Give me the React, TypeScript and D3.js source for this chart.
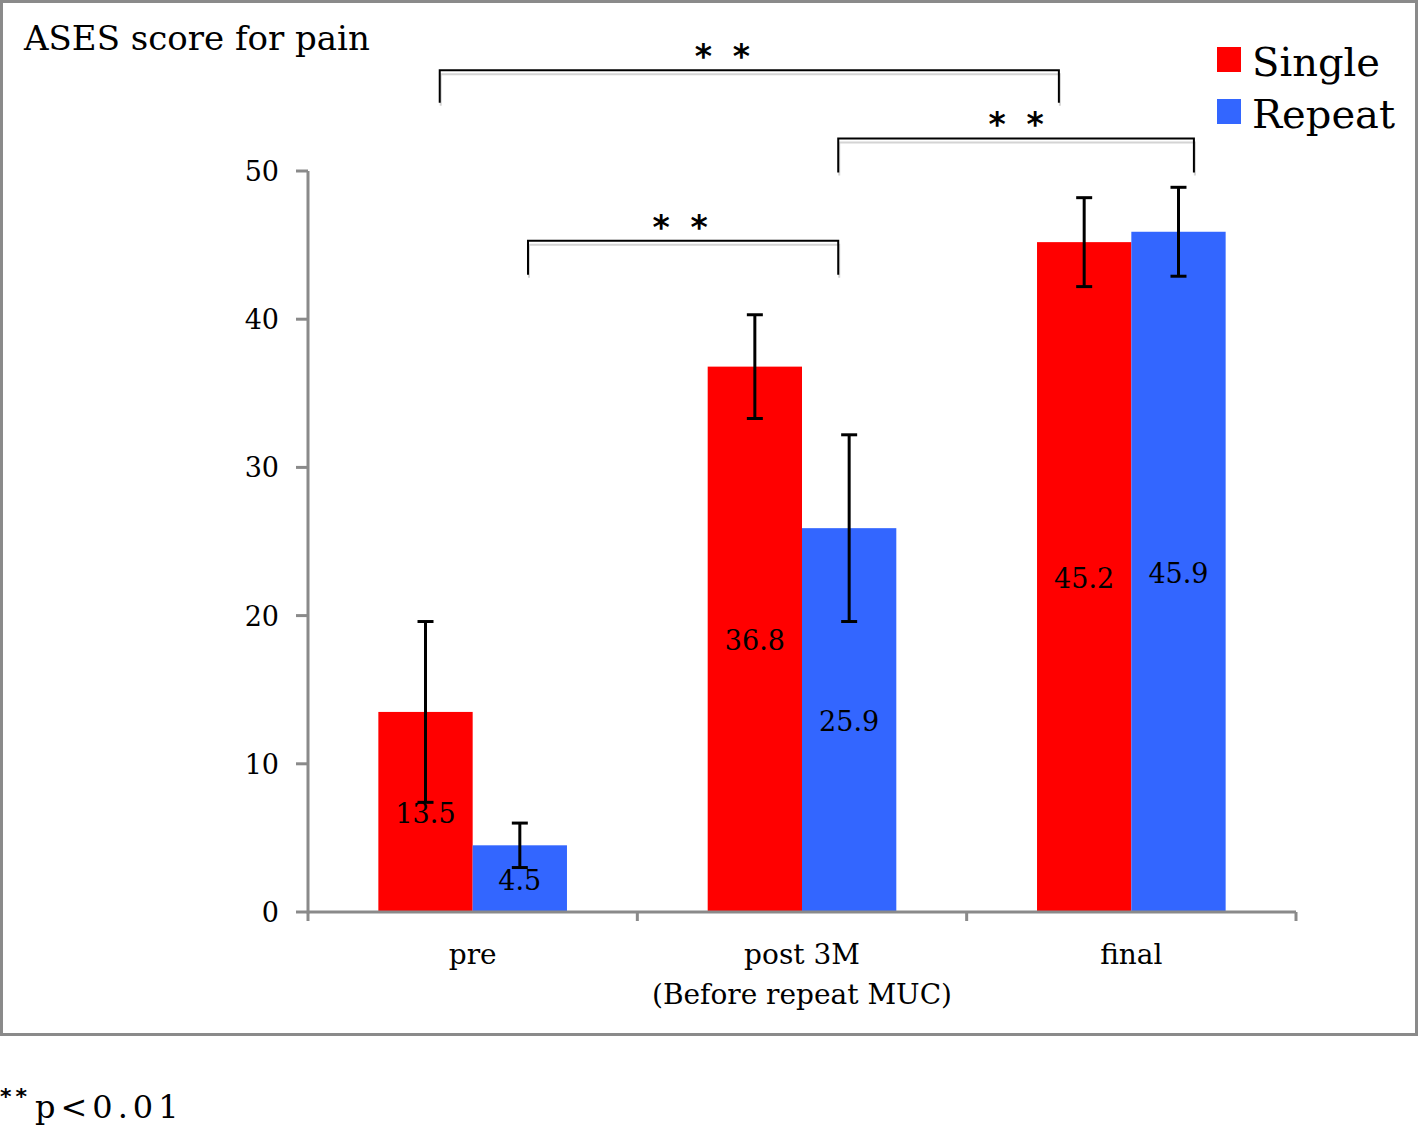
import React from "react";
import * as d3 from "d3";

const categories = ["pre", "post 3M", "final"];
const categorySubLabels = ["", "(Before repeat MUC)", ""];
const seriesNames = ["Single", "Repeat"];
const seriesColors = ["#FF0000", "#3366FF"];
const singleValues = [13.5, 36.8, 45.2];
const repeatValues = [4.5, 25.9, 45.9];
const singleErrors = [6.1, 3.5, 3.0];
const repeatErrors = [1.5, 6.3, 3.0];
const yTicks = [0, 10, 20, 30, 40, 50];
// significance brackets: x in category-index units, y in data units
const bracketX1 = [0.4, 1.61, 0.668];
const bracketX2 = [2.28, 2.69, 1.61];
const bracketStarX = [1.258, 2.15, 1.13];
const bracketTop = [56.8, 52.2, 45.3];
const bracketBottom = [54.6, 49.9, 43.0];

const W = 1419;
const H = 1125;
const serif = "'DejaVu Serif', serif";

export default function App() {
  const x0 = 308, x1 = 1296, yBase = 912, yTop = 171;
  const y = d3.scaleLinear().domain([0, 50]).range([yBase, yTop]);
  const xBand = d3.scaleBand<string>().domain(categories).range([x0, x1]).padding(0);
  const inner = d3
    .scaleBand<string>()
    .domain(seriesNames)
    .range([0, xBand.bandwidth()])
    .paddingInner(0)
    .paddingOuter(0.746);
  const xLin = d3.scaleLinear().domain([0, 3]).range([x0, x1]);
  const values = [singleValues, repeatValues];
  const errors = [singleErrors, repeatErrors];
  const cap = 8;

  return (
    <svg width={W} height={H} style={{ position: "absolute", left: 0, top: 0, background: "#fff" }}>
      <rect x={1.5} y={1.5} width={1415} height={1033} fill="#fff" stroke="#8a8a8a" strokeWidth={3} />
      <text x={24} y={50} fontFamily={serif} fontSize={34} fill="#000">ASES score for pain</text>

      {/* y axis */}
      <line x1={x0} x2={x0} y1={y(50)} y2={yBase + 1.5} stroke="#8a8a8a" strokeWidth={3} />
      {yTicks.map((t) => (
        <g key={t}>
          <line x1={x0 - 12} x2={x0} y1={y(t)} y2={y(t)} stroke="#8a8a8a" strokeWidth={3} />
          <text x={279} y={y(t) + 10} textAnchor="end" fontFamily={serif} fontSize={27} fill="#000">{t}</text>
        </g>
      ))}

      {/* bars */}
      {categories.map((c, ci) =>
        seriesNames.map((s, si) => {
          const v = values[si][ci];
          const bx = (xBand(c) as number) + (inner(s) as number);
          const bw = inner.bandwidth();
          return (
            <rect key={c + s} x={bx} y={y(v)} width={bw} height={yBase - y(v)} fill={seriesColors[si]} />
          );
        })
      )}

      {/* x axis */}
      <line x1={x0} x2={x1} y1={yBase} y2={yBase} stroke="#8a8a8a" strokeWidth={3} />
      {[0, 1, 2, 3].map((i) => (
        <line key={i} x1={xLin(i)} x2={xLin(i)} y1={yBase} y2={yBase + 9} stroke="#8a8a8a" strokeWidth={3} />
      ))}
      {categories.map((c, ci) => {
        const cx = (xBand(c) as number) + xBand.bandwidth() / 2;
        return (
          <g key={c}>
            <text x={cx} y={964} textAnchor="middle" fontFamily={serif} fontSize={28} fill="#000">{c}</text>
            {categorySubLabels[ci] && (
              <text x={cx} y={1004} textAnchor="middle" fontFamily={serif} fontSize={28} fill="#000">{categorySubLabels[ci]}</text>
            )}
          </g>
        );
      })}

      {/* error bars */}
      {categories.map((c, ci) =>
        seriesNames.map((s, si) => {
          const v = values[si][ci];
          const e = errors[si][ci];
          const cx = (xBand(c) as number) + (inner(s) as number) + inner.bandwidth() / 2;
          return (
            <g key={"e" + c + s} stroke="#000" strokeWidth={3}>
              <line x1={cx} x2={cx} y1={y(v + e)} y2={y(v - e)} />
              <line x1={cx - cap} x2={cx + cap} y1={y(v + e)} y2={y(v + e)} />
              <line x1={cx - cap} x2={cx + cap} y1={y(v - e)} y2={y(v - e)} />
            </g>
          );
        })
      )}

      {/* value labels */}
      {categories.map((c, ci) =>
        seriesNames.map((s, si) => {
          const v = values[si][ci];
          const cx = (xBand(c) as number) + (inner(s) as number) + inner.bandwidth() / 2;
          return (
            <text key={"l" + c + s} x={cx} y={y(v / 2) + 11} textAnchor="middle" fontFamily={serif} fontSize={27} fill="#000">
              {v.toFixed(1)}
            </text>
          );
        })
      )}

      {/* brackets */}
      {bracketX1.map((bx, i) => {
        const xa = xLin(bx), xb = xLin(bracketX2[i]);
        const yt = y(bracketTop[i]), yb = y(bracketBottom[i]);
        const sx = xLin(bracketStarX[i]);
        return (
          <g key={"b" + i}>
            <path d={`M${xa + 1},${yb + 3} V${yt + 4} H${xb + 1} V${yb + 3}`} fill="none" stroke="#d4d4d4" strokeWidth={2} />
            <path d={`M${xa},${yb} V${yt} H${xb} V${yb}`} fill="none" stroke="#000" strokeWidth={2} />
            {[-19, 19].map((dx) => (
              <text key={dx} x={sx + dx} y={yt - 2} textAnchor="middle" fontFamily="'DejaVu Sans', sans-serif" fontWeight="bold" fontSize={33} fill="#000">*</text>
            ))}
          </g>
        );
      })}

      {/* legend */}
      {seriesNames.map((s, i) => (
        <g key={"lg" + s}>
          <rect x={1217} y={47 + i * 52} width={24} height={25} fill={seriesColors[i]} />
          <text x={1252} y={76 + i * 52} fontFamily={serif} fontSize={40} fill="#000">{s}</text>
        </g>
      ))}

      {/* footnote */}
      <text x={0} y={1104} fontFamily="'DejaVu Sans', sans-serif" fontWeight="bold" fontSize={22} letterSpacing={4} fill="#000">**</text>
      <text x={35} y={1118} fontFamily={serif} fontSize={32} letterSpacing={5} fill="#000">p&lt;0.01</text>
    </svg>
  );
}
